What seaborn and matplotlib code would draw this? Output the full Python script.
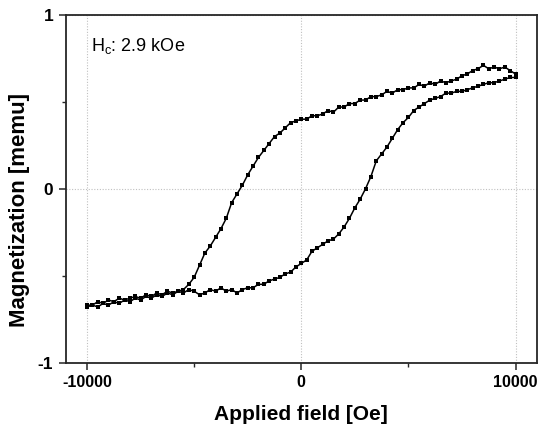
import numpy as np
import pandas as pd
import seaborn as sns
import matplotlib.pyplot as plt
from matplotlib.ticker import MultipleLocator

sns.set_style("ticks")
plt.rcParams['font.family'] = ['Liberation Sans', 'DejaVu Sans']
plt.rcParams['axes.unicode_minus'] = False
plt.rcParams['text.color'] = 'black'
plt.rcParams['axes.labelcolor'] = 'black'
plt.rcParams['xtick.labelcolor'] = 'black'
plt.rcParams['ytick.labelcolor'] = 'black'

# descending branch: +10 kOe -> -10 kOe (step 250 Oe)
field_down = list(range(10000, -10001, -250))
m_down = [0.66, 0.68, 0.70, 0.69, 0.70, 0.69, 0.71, 0.69, 0.68, 0.66,
          0.65, 0.63, 0.62, 0.61, 0.62, 0.60, 0.61, 0.59, 0.60, 0.58,
          0.58, 0.57, 0.57, 0.55, 0.56, 0.54, 0.53, 0.53, 0.51, 0.51,
          0.49, 0.49, 0.47, 0.47, 0.44, 0.45, 0.43, 0.42, 0.42, 0.40,
          0.40, 0.39, 0.38, 0.35, 0.32, 0.30, 0.26, 0.22, 0.18, 0.13,
          0.08, 0.02, -0.03, -0.08, -0.17, -0.23, -0.28, -0.33, -0.37, -0.44,
          -0.51, -0.55, -0.58, -0.59, -0.60, -0.59, -0.61, -0.60, -0.62, -0.61,
          -0.63, -0.62, -0.63, -0.64, -0.63, -0.65, -0.64, -0.66, -0.65, -0.67,
          -0.67]

# ascending branch: -10 kOe -> +10 kOe (step 250 Oe)
field_up = list(range(-10000, 10001, 250))
m_up = [-0.68, -0.67, -0.68, -0.66, -0.67, -0.65, -0.66, -0.64, -0.65, -0.63,
        -0.64, -0.62, -0.63, -0.61, -0.62, -0.60, -0.61, -0.59, -0.60, -0.58,
        -0.59, -0.61, -0.60, -0.58, -0.59, -0.57, -0.59, -0.58, -0.60, -0.58,
        -0.57, -0.57, -0.55, -0.55, -0.53, -0.52, -0.51, -0.49, -0.48, -0.45,
        -0.43, -0.41, -0.36, -0.34, -0.32, -0.30, -0.29, -0.26, -0.22, -0.17,
        -0.11, -0.06, 0.00, 0.07, 0.16, 0.20, 0.24, 0.29, 0.34, 0.38,
        0.41, 0.45, 0.47, 0.49, 0.51, 0.52, 0.53, 0.55, 0.55, 0.56,
        0.56, 0.57, 0.58, 0.59, 0.60, 0.61, 0.61, 0.62, 0.63, 0.64,
        0.64]

df = pd.DataFrame({
    "field": field_down + field_up,
    "m": m_down + m_up,
    "branch": ["down"] * len(field_down) + ["up"] * len(field_up),
})

fig = plt.figure(figsize=(5.38, 4.26), dpi=100)
ax = fig.add_axes([0.122, 0.149, 0.876, 0.816])

for b in ["down", "up"]:
    sub = df[df["branch"] == b]
    sns.lineplot(data=sub, x="field", y="m", sort=False, estimator=None,
                 color="black", linewidth=1.1, marker="s", markersize=3.3,
                 markeredgewidth=0, ax=ax, zorder=3)

ax.set_xlim(-11000, 11000)
ax.set_ylim(-1, 1)
ax.set_xticks([-10000, 0, 10000])
ax.set_yticks([-1, 0, 1])
ax.xaxis.set_minor_locator(MultipleLocator(5000))
ax.yaxis.set_minor_locator(MultipleLocator(0.5))
ax.grid(True, which="major", color="#c0c0c0", linestyle=(0, (1, 1.5)), linewidth=0.8)

for s in ax.spines.values():
    s.set_visible(True)
    s.set_color("#262626")
    s.set_linewidth(1.3)

ax.tick_params(which="major", direction="out", length=5, width=1.1, color="#262626", pad=4)
ax.tick_params(which="minor", direction="out", length=3, width=1.0, color="#262626")
ax.tick_params(axis="x", labelsize=11.5)
ax.tick_params(axis="y", labelsize=12.5)
for lbl in ax.get_xticklabels() + ax.get_yticklabels():
    lbl.set_fontweight("bold")

ax.set_xlabel("Applied field [Oe]", fontsize=15, fontweight="bold")
ax.set_ylabel("Magnetization [memu]", fontsize=16, fontweight="bold")
ax.xaxis.set_label_coords(0.5, -0.123)
ax.yaxis.set_label_coords(-0.075, 0.44)

ax.text(0.053, 0.94, r"H$_\mathregular{c}$: 2.9 kOe", transform=ax.transAxes, fontsize=13,
        ha="left", va="top")

fig.savefig("out.png", dpi=100)
